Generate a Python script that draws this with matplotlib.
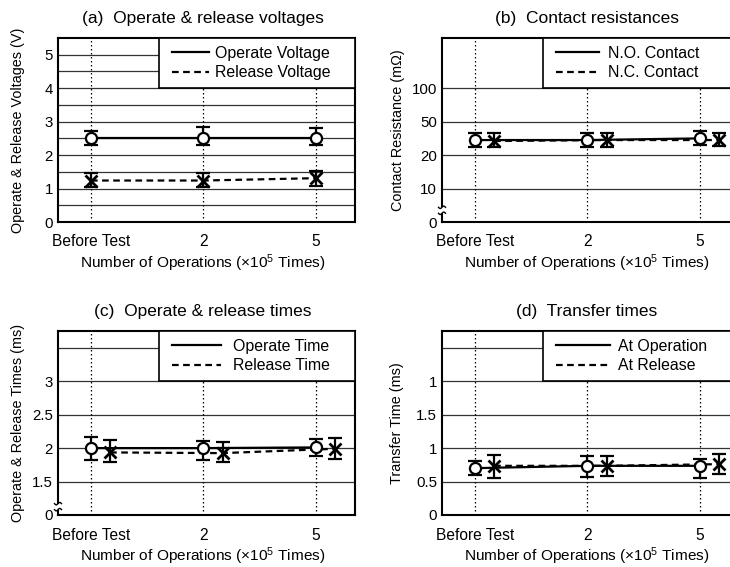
import numpy as np
import matplotlib.pyplot as plt
from matplotlib.patches import Rectangle
from matplotlib.lines import Line2D

plt.rcParams['font.family'] = ['Liberation Sans', 'DejaVu Sans']
plt.rcParams['mathtext.default'] = 'regular'

# categories on the x axis
x_labels = ['Before Test', '2', '5']
x_pos = np.arange(len(x_labels))
shift = 0.17  # second series drawn a bit to the right in (b)-(d)

# (a) operate / release voltage (V): mean, min, max
op_v = [2.51, 2.51, 2.51]
op_v_lo = [2.31, 2.31, 2.31]
op_v_hi = [2.72, 2.83, 2.81]
rel_v = [1.24, 1.24, 1.31]
rel_v_lo = [1.05, 1.05, 1.08]
rel_v_hi = [1.45, 1.45, 1.51]

# (b) contact resistance (mOhm)
no_r = [30.2, 30.2, 31.6]
no_r_lo = [25.2, 25.2, 26.3]
no_r_hi = [37.0, 37.0, 38.7]
nc_r = [29.4, 30.2, 30.2]
nc_r_lo = [25.2, 25.2, 25.6]
nc_r_hi = [36.3, 36.3, 36.3]
r_ticks = [0, 10, 20, 50, 100]

# (c) operate / release time (ms)
op_t = [2.0, 2.0, 2.01]
op_t_lo = [1.825, 1.825, 1.875]
op_t_hi = [2.16, 2.10, 2.14]
rel_t = [1.935, 1.925, 1.99]
rel_t_lo = [1.79, 1.785, 1.835]
rel_t_hi = [2.12, 2.085, 2.15]
t_ticks = [0, 1.5, 2, 2.5, 3]

# (d) transfer time (ms)
tr_op = [0.70, 0.735, 0.735]
tr_op_lo = [0.60, 0.575, 0.55]
tr_op_hi = [0.81, 0.885, 0.835]
tr_rel = [0.735, 0.735, 0.76]
tr_rel_lo = [0.56, 0.585, 0.61]
tr_rel_hi = [0.895, 0.875, 0.91]
tr_ticks = [0, 0.5, 1, 1.5, 2]
tr_labels = ['0', '0.5', '1', '1.5', '1']


# broken axes: value -> plotting position
def res_pos(v):
    v = np.asarray(v, dtype=float)
    return np.interp(np.log10(v), np.log10(r_ticks[1:]), [1, 2, 3, 4])


def time_pos(v):
    return 1 + (np.asarray(v, dtype=float) - 1.5) / 0.5


def series(ax, x, y, lo, hi, ls, marker):
    y = np.asarray(y)
    lo = np.asarray(lo)
    hi = np.asarray(hi)
    ax.errorbar(x, y, yerr=[y - lo, hi - y], fmt='none', ecolor='k',
                elinewidth=1.6, capsize=5, capthick=1.6, zorder=5)
    ax.plot(x, y, color='k', ls=ls, lw=1.6, zorder=4)
    if marker == 'o':
        ax.plot(x, y, ls='none', marker='o', ms=8, mfc='white', mec='k', mew=1.6, zorder=6)
    else:
        ax.plot(x, y, ls='none', marker='x', ms=8, mec='k', mew=2, zorder=6)


def setup(ax, ylim, yticks, ylabels, grid, title, ylabel, names, hl, tp, ylab_x):
    ax.set_xlim(-0.293, 2.347)
    ax.set_ylim(*ylim)
    ax.set_xticks(x_pos)
    ax.set_xticklabels(x_labels)
    ax.set_yticks(yticks)
    ax.set_yticklabels(ylabels)
    ax.tick_params(length=0)
    ax.tick_params(axis='x', pad=9, labelsize=11.2)
    ax.tick_params(axis='y', pad=3.6, labelsize=10.8)
    for g in grid:
        ax.axhline(g, color='#333333', lw=0.9, zorder=1)
    for xp in x_pos:
        ax.axvline(xp, color='k', lw=0.9, ls=(0, (1.2, 2)), zorder=1)
    for s in ax.spines.values():
        s.set_linewidth(1.5)
    ax.set_xlabel('Number of Operations (×10$^{5}$ Times)', fontsize=11.1)
    ax.xaxis.set_label_coords(0.488, -0.165)
    ax.xaxis.label.set_va('top')
    ax.set_ylabel(ylabel, fontsize=10.4)
    ax.yaxis.set_label_coords(ylab_x, 0.5)
    ax.text(0.488, 1.0815, title, transform=ax.transAxes, ha='center',
            va='baseline', fontsize=12.5)
    # legend box over the top right corner
    ax.add_patch(Rectangle((0.34, 0.727), 0.66, 0.273, transform=ax.transAxes,
                           fc='white', ec='k', lw=1.2, zorder=3))
    handles = [Line2D([], [], color='k', lw=1.6),
               Line2D([], [], color='k', lw=1.6, ls=(0, (3, 2)))]
    ax.legend(handles, names, loc='center left', bbox_to_anchor=(0.385, 0.8636),
              frameon=False, fontsize=11.4, borderpad=0, borderaxespad=0,
              handlelength=hl, handletextpad=tp, labelspacing=0.3)


def axis_break(ax, frac):
    # white gap in the left spine with two small wavy strokes
    px = 1 / 297
    py = 1 / 184
    ax.add_patch(Rectangle((-3 * px, frac - 3 * py), 6 * px, 6 * py,
                           transform=ax.transAxes, fc='white', ec='none',
                           clip_on=False, zorder=10))
    t = np.linspace(-1, 1, 20)
    for dy in (-3, 3):
        ax.plot(t * 3.5 * px, frac + (dy + 1.2 * np.sin(np.pi * t)) * py,
                transform=ax.transAxes, color='k', lw=1.0, clip_on=False, zorder=11)


fig = plt.figure(figsize=(7.3, 5.67), dpi=100)
W = 297 / 730
H = 184 / 567
ax_a = fig.add_axes([58 / 730, 1 - 222 / 567, W, H])
ax_b = fig.add_axes([442 / 730, 1 - 222 / 567, W, H])
ax_c = fig.add_axes([58 / 730, 1 - 515 / 567, W, H])
ax_d = fig.add_axes([442 / 730, 1 - 515 / 567, W, H])

# (a)
setup(ax_a, (0, 5.5), [0, 1, 2, 3, 4, 5], ['0', '1', '2', '3', '4', '5'],
      np.arange(0.5, 5.01, 0.5), '(a)  Operate & release voltages',
      'Operate & Release Voltages (V)', ['Operate Voltage', 'Release Voltage'],
      2.3, 0.4, -0.111)
series(ax_a, x_pos, op_v, op_v_lo, op_v_hi, '-', 'o')
series(ax_a, x_pos, rel_v, rel_v_lo, rel_v_hi, (0, (3, 2)), 'x')

# (b)
setup(ax_b, (0, 5.5), [0, 1, 2, 3, 4], [str(t) for t in r_ticks],
      [1, 2, 3, 4], '(b)  Contact resistances',
      'Contact Resistance (mΩ)', ['N.O. Contact', 'N.C. Contact'],
      2.7, 0.55, -0.125)
series(ax_b, x_pos, res_pos(no_r), res_pos(no_r_lo), res_pos(no_r_hi), '-', 'o')
series(ax_b, x_pos + shift, res_pos(nc_r), res_pos(nc_r_lo), res_pos(nc_r_hi), (0, (3, 2)), 'x')
axis_break(ax_b, 0.35 / 5.5)

# (c)
setup(ax_c, (0, 5.5), [0, 1, 2, 3, 4], [str(t) for t in t_ticks],
      [1, 2, 3, 4, 5], '(c)  Operate & release times',
      'Operate & Release Times (ms)', ['Operate Time', 'Release Time'],
      3.1, 0.75, -0.111)
series(ax_c, x_pos, time_pos(op_t), time_pos(op_t_lo), time_pos(op_t_hi), '-', 'o')
series(ax_c, x_pos + shift, time_pos(rel_t), time_pos(rel_t_lo), time_pos(rel_t_hi), (0, (3, 2)), 'x')
axis_break(ax_c, 0.25 / 5.5)

# (d)
setup(ax_d, (0, 2.75), tr_ticks, tr_labels,
      np.arange(0.5, 2.51, 0.5), '(d)  Transfer times',
      'Transfer Time (ms)', ['At Operation', 'At Release'],
      3.4, 0.5, -0.128)
series(ax_d, x_pos, tr_op, tr_op_lo, tr_op_hi, '-', 'o')
series(ax_d, x_pos + shift, tr_rel, tr_rel_lo, tr_rel_hi, (0, (3, 2)), 'x')

fig.savefig('out.png', dpi=100)
